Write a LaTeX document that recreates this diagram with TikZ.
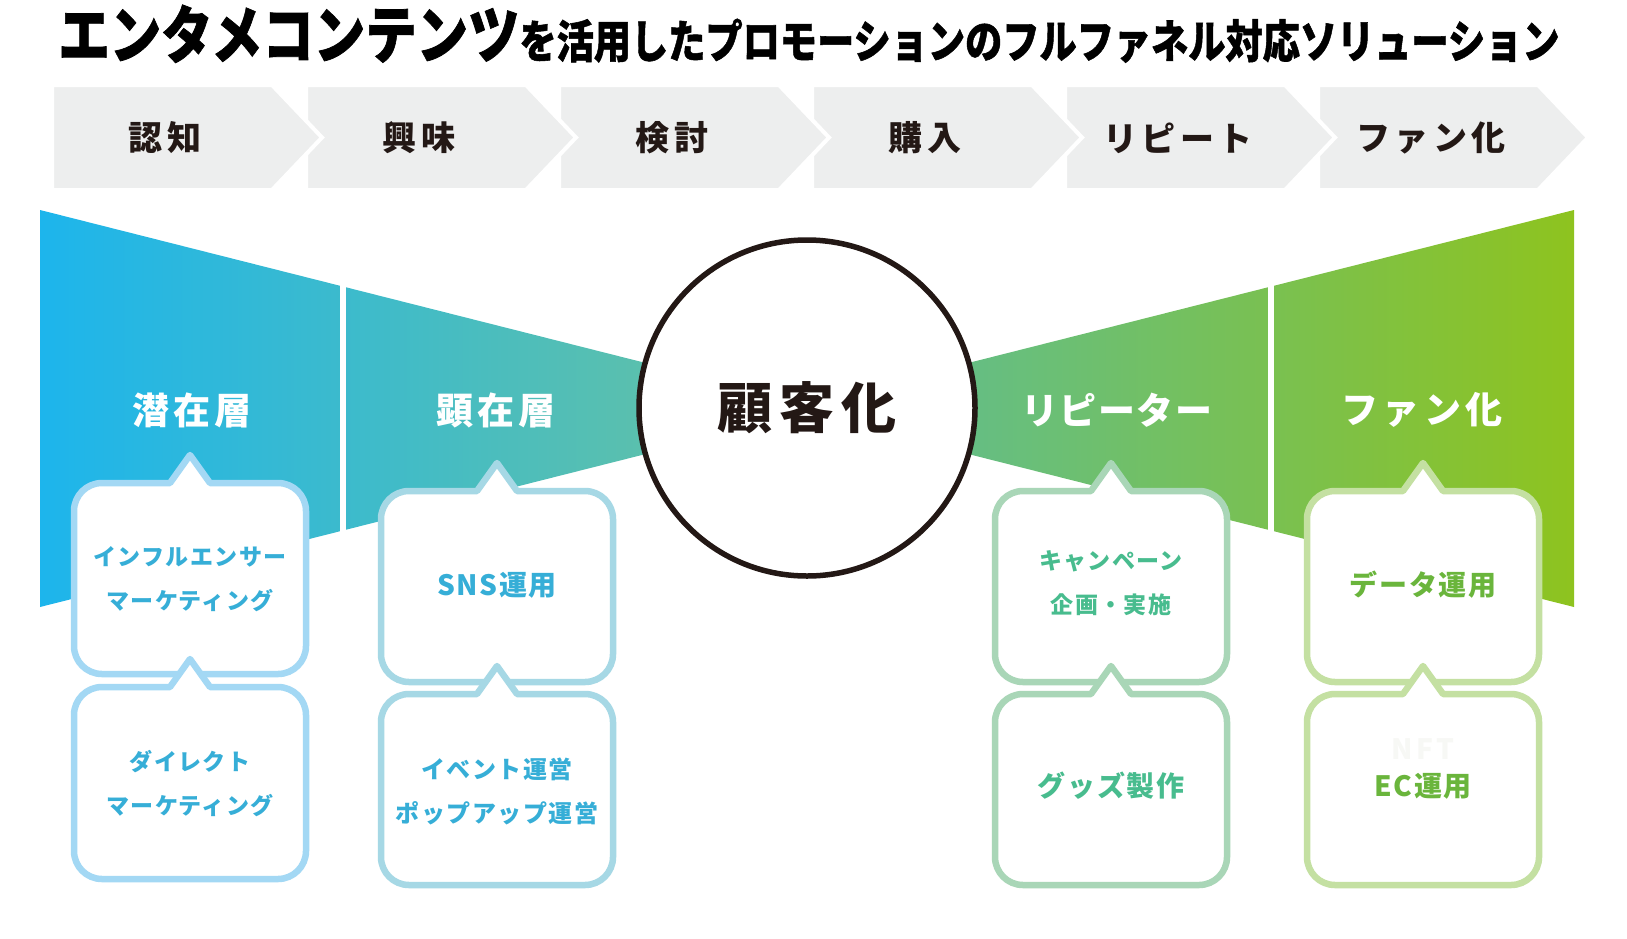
\documentclass[tikz,border=0pt]{standalone}
\usepackage{fontspec}
\setmainfont{Noto Sans CJK JP}
\newfontfamily\jp{Noto Sans CJK JP}
\newfontfamily\jptitle{Noto Sans CJK JP}[BoldFeatures={FakeBold=1.2}]
\newfontfamily\jpwide{Noto Sans CJK JP}[LetterSpace=12]
\newfontfamily\jpmid{Noto Sans CJK JP}[LetterSpace=12]
\newfontfamily\jpkana{Noto Sans CJK JP}[LetterSpace=4]
\newfontfamily\jpsm{Noto Sans CJK JP}[LetterSpace=6]
\definecolor{ink}{HTML}{231815}
\definecolor{chev}{HTML}{EDEEEE}
\definecolor{fA}{HTML}{1DB5EC}
\definecolor{fB}{HTML}{5CC0AC}
\definecolor{fC}{HTML}{64BE86}
\definecolor{fD}{HTML}{8EC31F}
\definecolor{bd1}{HTML}{A3D8F4}
\definecolor{bd2}{HTML}{A6D8E5}
\definecolor{bd3}{HTML}{A9D6B7}
\definecolor{bd4}{HTML}{C4E0A2}
\definecolor{tx1}{HTML}{36AED7}
\definecolor{tx3}{HTML}{48BC8E}
\definecolor{tx4}{HTML}{6AB53C}
\definecolor{ghost}{HTML}{F7F8F5}
\newcommand\calloutbox[4]{%
  \draw[line width=3.25pt, draw=#4, fill=white, line join=round]
   (#1,-#3) -- ({#1-116+28},-#3) arc[start angle=270,end angle=180,radius=28]
   -- ({#1-116},{-#2-28}) arc[start angle=180,end angle=90,radius=28]
   -- ({#1-20},-#2) -- (#1,{-#2+28}) -- ({#1+20},-#2)
   -- ({#1+116-28},-#2) arc[start angle=90,end angle=0,radius=28]
   -- ({#1+116},{-#3+28}) arc[start angle=0,end angle=-90,radius=28] -- cycle;}
\begin{document}
\begin{tikzpicture}[x=0.5pt,y=0.5pt,
  chevtxt/.style={inner sep=0, text=ink, font=\jpmid\bfseries\fontsize{17pt}{20pt}\selectfont},
  funtxt/.style={inner sep=0, text=white, font=\jpwide\bfseries\fontsize{18.5pt}{20pt}\selectfont},
  boxtxt/.style={inner sep=0, align=center, font=\jpsm\bfseries\fontsize{11.5pt}{22pt}\selectfont},
  bigtxt/.style={inner sep=0, align=center, font=\jpsm\bfseries\fontsize{14pt}{22pt}\selectfont}]
\useasboundingbox (0,0) rectangle (1627,-938);
\fill[white] (0,0) rectangle (1627,-938);
% title
\node[anchor=base west, inner sep=0, text=black] (title) at (58,-58)
 {\scalebox{1}[1.22]{\jptitle\bfseries\fontsize{25.7pt}{26pt}\selectfont エンタメコンテンツ\fontsize{18.6pt}{26pt}\selectfont を活用したプロモーションのフルファネル対応ソリューション}};
% chevrons (right to left so each tip lies on the next)
\foreach \x/\t [count=\i] in {1318/ファン化,1065/リピート,812/購入,559/検討,306/興味,52/認知}{
  \filldraw[fill=chev, draw=white, line width=2pt, line join=miter]
    (\x,-85) -- (\x+220,-85) -- (\x+270,-137.5) -- (\x+220,-190) -- (\x,-190) -- cycle;
  \node[chevtxt] (chev\i) at (\x+113,-138) {\t};
}
% funnel
\shade[left color=fA, right color=fB] (40,-210) -- (660,-366.6) -- (660,-450.4) -- (40,-607) -- cycle;
\shade[left color=fC, right color=fD] (950,-367.6) -- (1574,-210) -- (1574,-607) -- (950,-449.4) -- cycle;
\fill[white] (340,-200) rectangle (346,-620);
\fill[white] (1268,-200) rectangle (1274,-620);
% center circle
\node[circle, draw=ink, line width=2.75pt, fill=white, minimum size=168pt, inner sep=0,
  text=ink, font=\jpwide\bfseries\fontsize{27.5pt}{30pt}\selectfont] (core) at (807,-408) {顧客化};
% funnel labels
\node[funtxt] (l1) at (192,-410) {潜在層};
\node[funtxt] (l2) at (496,-410) {顕在層};
\node[funtxt, font=\jpkana\bfseries\fontsize{18.5pt}{20pt}\selectfont] (l3) at (1117,-410) {リピーター};
\node[funtxt] (l4) at (1422,-410) {ファン化};
% callouts column 1
\calloutbox{190}{483}{674}{bd1}
\calloutbox{190}{687}{879}{bd1}
\node[boxtxt, text=tx1] (b1a) at (190,-579) {インフルエンサー\\マーケティング};
\node[boxtxt, text=tx1] (b1b) at (190,-784) {ダイレクト\\マーケティング};
% column 2
\calloutbox{497}{491}{682}{bd2}
\calloutbox{497}{694}{885}{bd2}
\node[bigtxt, text=tx1] (b2a) at (497,-585) {SNS運用};
\node[boxtxt, text=tx1, font=\jpsm\bfseries\fontsize{12pt}{22pt}\selectfont] (b2b) at (497,-791) {イベント運営\\ポップアップ運営};
% column 3
\calloutbox{1111}{491}{682}{bd3}
\calloutbox{1111}{694}{885}{bd3}
\node[boxtxt, text=tx3] (b3a) at (1111,-583) {キャンペーン\\企画・実施};
\node[bigtxt, text=tx3] (b3b) at (1111,-786) {グッズ製作};
% column 4
\calloutbox{1423}{491}{682}{bd4}
\calloutbox{1423}{694}{885}{bd4}
\node[bigtxt, text=tx4] (b4a) at (1423,-585) {データ運用};
\node[bigtxt, text=ghost, font=\jpwide\bfseries\fontsize{14pt}{22pt}\selectfont] (b4n) at (1423,-749) {NFT};
\node[bigtxt, text=tx4] (b4b) at (1423,-786) {EC運用};
\end{tikzpicture}
\end{document}
